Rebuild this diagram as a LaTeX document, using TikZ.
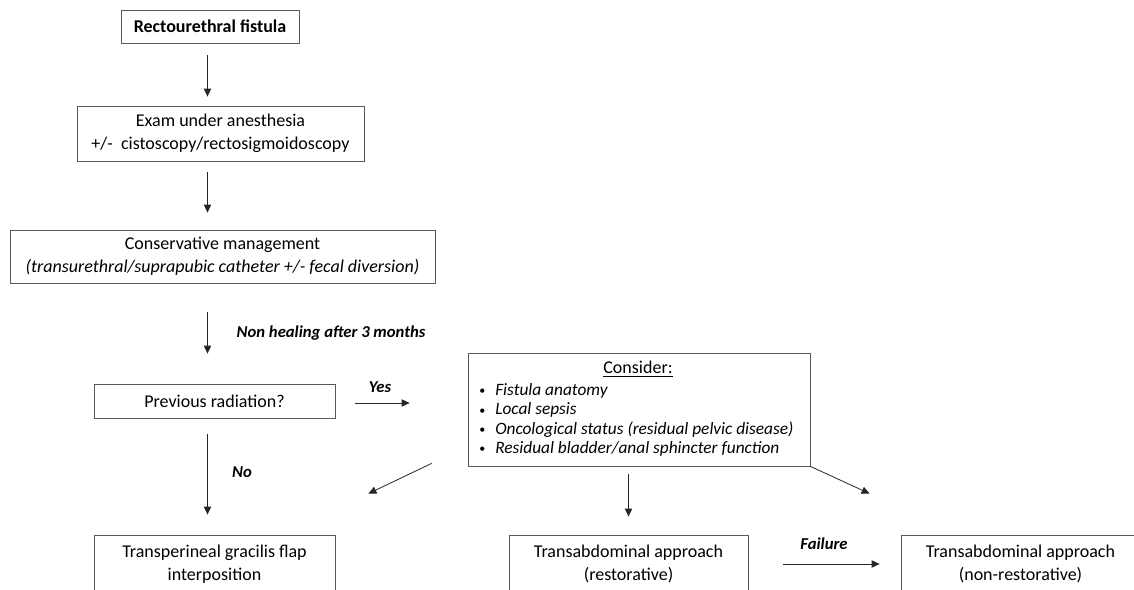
\documentclass[tikz,border=0pt]{standalone}
\usepackage{fontspec}
\setmainfont{Carlito}
\usetikzlibrary{arrows.meta,positioning}

\newcommand{\itembullet}{\makebox[12pt][l]{\upshape\fontsize{9}{9}\selectfont\raisebox{0.15ex}{\textbullet}}}

\begin{document}
\begin{tikzpicture}[
x=0.75pt, y=-0.75pt,
box/.style={
    draw=black!65,
    line width=0.6pt,
    align=center,
    inner sep=2pt,
    font=\fontsize{13.5}{17.25}\selectfont
    },
arr/.style={-{Triangle[length=6pt,width=5.5pt]}, black!85, line width=0.6pt},
lbl/.style={font=\fontsize{12.5}{15}\selectfont\bfseries\itshape}
]

\path[use as bounding box, clip] (0,0) rectangle (1134,589);

% left column
\node[box, minimum width=133.5pt, minimum height=24.75pt] (fistula) at (210,26.5) {\bfseries Rectourethral fistula};
\node[box, minimum width=215.25pt, minimum height=41.25pt] (exam) at (220.5,133.5) {Exam under anesthesia\\+/-\ \ cistoscopy/rectosigmoidoscopy};
\node[box, minimum width=318.75pt, minimum height=39.75pt] (conservative) at (222.5,256.5) {Conservative management\\\itshape (transurethral/suprapubic catheter +/- fecal diversion)};
\node[box, minimum width=180.75pt, minimum height=25.5pt] (radiation) at (214.5,401) {Previous radiation?};
\node[box, minimum width=180.75pt, minimum height=43.5pt] (transperineal) at (214.5,564) {Transperineal gracilis flap\\interposition};
\coordinate (spine) at (207.5,0);

% consider box
\node[box, minimum width=256.5pt, minimum height=84.75pt] (consider) at (639,409.5) {};
\node[font=\fontsize{13.5}{16}\selectfont] (considerhead) at (638,369) {\underline{Consider:}};
\node[anchor=west, align=left, inner sep=0pt, font=\fontsize{13}{14.6}\selectfont\itshape] (considerlist) at (479,420) {%
\itembullet Fistula anatomy\\
\itembullet Local sepsis\\
\itembullet Oncological status (residual pelvic disease)\\
\itembullet Residual bladder/anal sphincter function};

% bottom row
\node[box, minimum width=179.25pt, minimum height=43.5pt] (restorative) at (628.5,564) {Transabdominal approach\\(restorative)};
\node[box, minimum width=179.25pt, minimum height=43.5pt] (nonrestorative) at (1020.5,564) {Transabdominal approach\\(non-restorative)};

% connectors
\draw[arr, shorten <=9pt, shorten >=6.75pt] (fistula.south -| spine) -- (exam.north -| spine);
\draw[arr, shorten <=8.25pt, shorten >=12.75pt] (exam.south -| spine) -- (conservative.north -| spine);
\draw[arr, shorten <=21.75pt, shorten >=22.5pt] (conservative.south -| spine) -- (radiation.north -| spine);
\draw[arr, shorten <=12pt, shorten >=15pt] (radiation.south -| spine) -- (transperineal.north -| spine);
\draw[arr, shorten <=15pt, shorten >=43.5pt] ([yshift=-1.5pt]radiation.east) -- ([yshift=-1.5pt]radiation.east -| consider.west);
\draw[arr] ([xshift=-27pt,yshift=2.25pt]consider.south west) -- ([xshift=24.75pt,yshift=30.75pt]transperineal.north east);
\draw[arr, shorten <=6pt, shorten >=13.5pt] (consider.south -| restorative.north) -- (restorative.north);
\draw[arr] (consider.south east) -- ([xshift=-23.25pt,yshift=30.75pt]nonrestorative.north west);
\draw[arr, shorten <=26.25pt, shorten >=15.75pt] (restorative.east) -- (nonrestorative.west);

% labels
\node[lbl, anchor=west] (nonhealing) at (232,333) {Non healing after 3 months};
\node[lbl] (yes) at (380,387) {Yes};
\node[lbl] (no) at (242,472) {No};
\node[lbl] (failure) at (824,544) {Failure};

\end{tikzpicture}
\end{document}
